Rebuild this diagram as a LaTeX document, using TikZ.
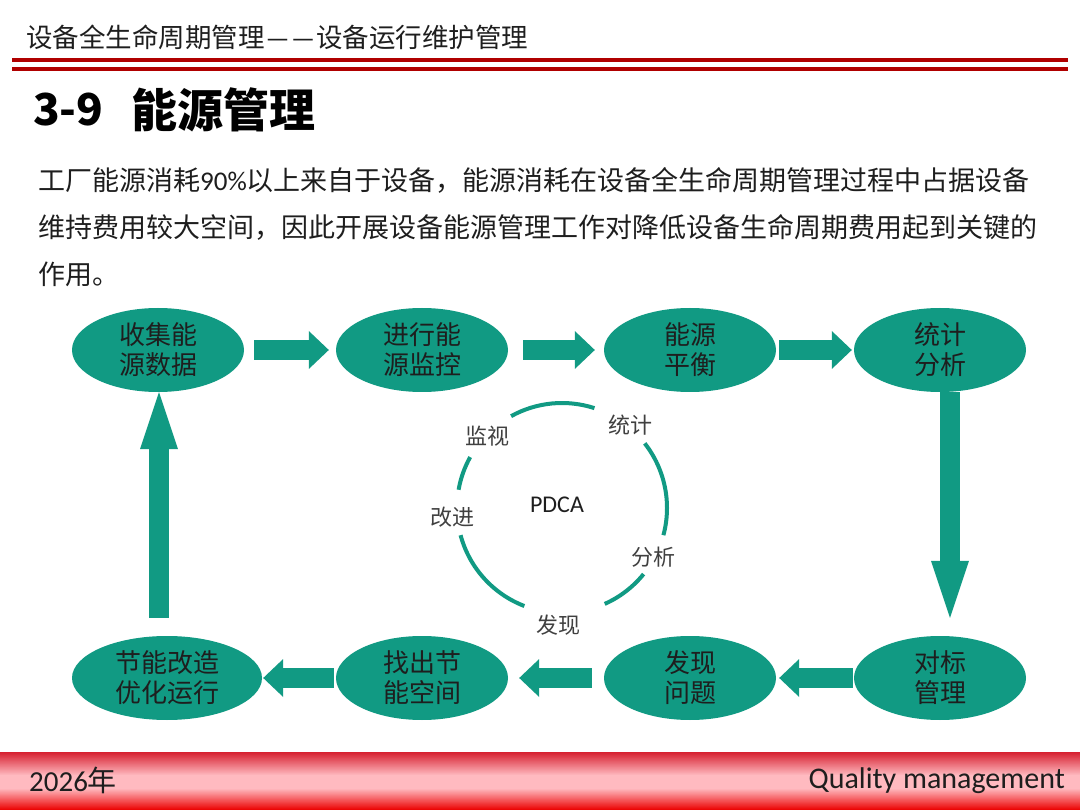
\documentclass[tikz,border=0pt]{standalone}
\usepackage{fontspec}
\setmainfont{Noto Sans CJK SC}
\newfontfamily\latinfont{Carlito}
\usetikzlibrary{shapes.geometric,arrows.meta}

\definecolor{flowteal}{RGB}{17,154,131}
\definecolor{rulered}{RGB}{176,0,0}
\definecolor{inktext}{RGB}{30,30,30}
\definecolor{bandtop}{RGB}{214,32,48}
\definecolor{bandmid}{RGB}{255,186,192}
\definecolor{bandbot}{RGB}{236,6,6}

\begin{document}
\begin{tikzpicture}[x=1pt, y=-1pt,
	stage/.style={ellipse, fill=flowteal, inner sep=0pt, minimum width=172pt, minimum height=84pt,
		align=center, text=inktext, font=\fontsize{26}{30}\selectfont},
	flowarrow/.style={draw=flowteal, line width=20pt, -{Triangle[width=38pt, length=20pt, line width=0pt]}},
	longarrow/.style={flowarrow, -{Triangle[width=38pt, length=57pt, line width=0pt]}},
	ringlabel/.style={inner sep=0pt, text=black!75, font=\fontsize{22}{26}\selectfont},
	paraline/.style={anchor=west, inner sep=0pt, text=inktext, font=\fontsize{27}{30}\selectfont}]
	\fill[white] (0,0) rectangle (1080,810);
	\useasboundingbox (0,0) rectangle (1080,810);
	% header
	\node[anchor=west, inner sep=0pt, text=inktext, font=\fontsize{26.5}{28}\selectfont] (header) at (26,37)
		{设备全生命周期管理\hspace{1pt}{\latinfont —\hspace{1.5pt}—}\hspace{1pt}设备运行维护管理};
	\fill[rulered] (12,58) rectangle (1068,62.5);
	\fill[rulered] (12,67) rectangle (1068,71.5);
	\node[anchor=west, inner sep=0pt, font=\bfseries\fontsize{44}{48}\selectfont] (num) at (33,110) {3-9};
	\node[anchor=west, inner sep=0pt, font=\bfseries\fontsize{46}{50}\selectfont] (title) at (131,110) {能源管理};
	% text
	\node[paraline] (para1) at (38,180) {工厂能源消耗{\latinfont 90\%}以上来自于设备，能源消耗在设备全生命周期管理过程中占据设备};
	\node[paraline] (para2) at (38,227) {维持费用较大空间，因此开展设备能源管理工作对降低设备生命周期费用起到关键的};
	\node[paraline] (para3) at (38,274) {作用。};
	% stages
	\node[stage] (collect) at (158,350) {收集能\\源数据};
	\node[stage] (monitor) at (422,350) {进行能\\源监控};
	\node[stage] (balance) at (690,350) {能源\\平衡};
	\node[stage] (stats) at (940,350) {统计\\分析};
	\node[stage, minimum width=190pt] (retrofit) at (167,678) {节能改造\\优化运行};
	\node[stage] (space) at (422,678) {找出节\\能空间};
	\node[stage] (issue) at (690,678) {发现\\问题};
	\node[stage] (bench) at (940,678) {对标\\管理};
	\draw[flowarrow] ([xshift=10pt]collect.east) -- ([xshift=-7pt]monitor.west);
	\draw[flowarrow] ([xshift=15pt]monitor.east) -- ([xshift=-9pt]balance.west);
	\draw[flowarrow] ([xshift=3pt]balance.east) -- ([xshift=-2pt]stats.west);
	\draw[longarrow] ([xshift=10pt]stats.south) -- ([xshift=10pt,yshift=18pt]bench.north);
	\draw[flowarrow] ([xshift=-1pt]bench.west) -- ([xshift=3pt]issue.east);
	\draw[flowarrow] ([xshift=-12pt]issue.west) -- ([xshift=11pt]space.east);
	\draw[flowarrow] ([xshift=-2pt]space.west) -- ([xshift=1pt]retrofit.east);
	\draw[longarrow] ([xshift=-8pt,yshift=18pt]retrofit.north) -- ([xshift=1pt]collect.south);
	% PDCA ring
	\coordinate (ring) at (562,508);
	\foreach \a/\b in {72/119, -15/38, -66/-39, 195/249, 151/170}
		\draw[flowteal, line width=4pt] (ring) ++(\a:105pt) arc[start angle=\a, end angle=\b, radius=105pt];
	\node[inner sep=0pt, text=inktext, font=\latinfont\fontsize{24}{28}\selectfont] (pdca) at (557,505) {PDCA};
	\node[ringlabel] (watch) at (487,436) {监视};
	\node[ringlabel] (count) at (630,425) {统计};
	\node[ringlabel] (improve) at (452,517) {改进};
	\node[ringlabel] (analyse) at (653,557) {分析};
	\node[ringlabel] (find) at (558,625) {发现};
	% footer band
	\foreach \i in {0,...,23} {
		\pgfmathtruncatemacro\p{100*\i/23}
		\fill[bandmid!\p!bandtop] (0,752+\i) rectangle (1080,753.2+\i);
	}
	\fill[bandmid] (0,775) rectangle (1080,788.2);
	\foreach \i in {0,...,21} {
		\pgfmathtruncatemacro\p{100*\i/21}
		\fill[bandbot!\p!bandmid] (0,788+\i) rectangle (1080,789.2+\i);
	}
	\node[anchor=west, inner sep=0pt, text=inktext, font=\fontsize{29}{30}\selectfont] (year) at (29,780) {{\latinfont 2026}年};
	\node[anchor=east, inner sep=0pt, text=inktext, font=\latinfont\fontsize{30}{32}\selectfont] (motto) at (1065,781) {Quality management};
\end{tikzpicture}
\end{document}
